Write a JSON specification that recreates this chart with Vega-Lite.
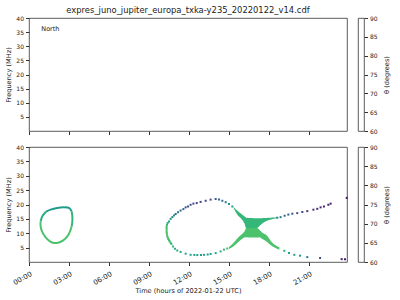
{
  "$schema": "https://vega.github.io/schema/vega-lite/v6.json",
  "padding": {"left": 5, "top": 5, "right": 0, "bottom": 0},
  "config": {
    "font": "DejaVu Sans",
    "view": {"stroke": "#333", "strokeWidth": 0.8},
    "axis": {"grid": false, "domain": false, "labelFontSize": 6, "titleFontSize": 6.6, "titleFontWeight": "normal", "tickSize": 3.5, "tickColor": "#333", "labelColor": "#222", "titleColor": "#222", "labelPadding": 2, "titlePadding": 4, "labelOverlap": false, "labelFlush": false}
  },
  "datasets": {
    "loop1": [
      {"seg": "a", "i": 1, "t": 1.25, "f": 17.4, "theta": 76.5},
      {"seg": "a", "i": 2, "t": 1.62, "f": 18.2, "theta": 76.5},
      {"seg": "a", "i": 3, "t": 2.12, "f": 18.8, "theta": 76.5},
      {"seg": "a", "i": 4, "t": 2.62, "f": 19.0, "theta": 76.5},
      {"seg": "a", "i": 5, "t": 3.0, "f": 18.8, "theta": 76.5},
      {"seg": "a", "i": 6, "t": 3.2, "f": 17.6, "theta": 76.5},
      {"seg": "b", "i": 1, "t": 0.87, "f": 14.1, "theta": 79},
      {"seg": "b", "i": 2, "t": 1.0, "f": 15.9, "theta": 79},
      {"seg": "b", "i": 3, "t": 1.25, "f": 17.4, "theta": 79},
      {"seg": "c", "i": 1, "t": 3.2, "f": 17.6, "theta": 79.5},
      {"seg": "c", "i": 2, "t": 3.25, "f": 15.9, "theta": 79.5},
      {"seg": "c", "i": 3, "t": 3.25, "f": 14.1, "theta": 79.5},
      {"seg": "c", "i": 4, "t": 3.2, "f": 12.4, "theta": 79.5},
      {"seg": "d", "i": 1, "t": 3.2, "f": 12.4, "theta": 81.5},
      {"seg": "d", "i": 2, "t": 3.07, "f": 10.6, "theta": 81.5},
      {"seg": "d", "i": 3, "t": 2.87, "f": 8.9, "theta": 81.5},
      {"seg": "d", "i": 4, "t": 2.57, "f": 7.5, "theta": 81.5},
      {"seg": "d", "i": 5, "t": 2.25, "f": 6.8, "theta": 81.5},
      {"seg": "d", "i": 6, "t": 1.87, "f": 6.6, "theta": 81.5},
      {"seg": "d", "i": 7, "t": 1.57, "f": 7.2, "theta": 81.5},
      {"seg": "d", "i": 8, "t": 1.25, "f": 8.6, "theta": 81.5},
      {"seg": "d", "i": 9, "t": 1.0, "f": 10.4, "theta": 81.5},
      {"seg": "d", "i": 10, "t": 0.87, "f": 12.4, "theta": 81.5},
      {"seg": "d", "i": 11, "t": 0.87, "f": 14.1, "theta": 81.5}
    ],
    "fill": [
      {"part": "upper", "t": 15.35, "f": 18.7, "f2": 19.1, "theta": 80},
      {"part": "upper", "t": 15.63, "f": 16.4, "f2": 17.8, "theta": 80},
      {"part": "upper", "t": 16.0, "f": 14.6, "f2": 16.4, "theta": 80},
      {"part": "upper", "t": 16.15, "f": 13.5, "f2": 15.9, "theta": 80},
      {"part": "upper", "t": 16.3, "f": 11.8, "f2": 15.4, "theta": 80},
      {"part": "upper", "t": 16.7, "f": 11.8, "f2": 15.3, "theta": 80},
      {"part": "upper", "t": 17.1, "f": 11.8, "f2": 15.2, "theta": 80},
      {"part": "upper", "t": 17.3, "f": 12.6, "f2": 15.2, "theta": 80},
      {"part": "upper", "t": 17.6, "f": 13.7, "f2": 15.3, "theta": 80},
      {"part": "upper", "t": 18.0, "f": 14.6, "f2": 15.4, "theta": 80},
      {"part": "upper", "t": 18.3, "f": 15.0, "f2": 15.5, "theta": 80},
      {"part": "upper", "t": 18.6, "f": 15.2, "f2": 15.6, "theta": 80},
      {"part": "lower", "t": 15.0, "f": 4.5, "f2": 5.2, "theta": 81.5},
      {"part": "lower", "t": 15.35, "f": 5.5, "f2": 6.7, "theta": 81.5},
      {"part": "lower", "t": 15.7, "f": 7.0, "f2": 8.6, "theta": 81.5},
      {"part": "lower", "t": 16.0, "f": 8.1, "f2": 9.8, "theta": 81.5},
      {"part": "lower", "t": 16.15, "f": 8.5, "f2": 10.5, "theta": 81.5},
      {"part": "lower", "t": 16.3, "f": 8.6, "f2": 11.8, "theta": 81.5},
      {"part": "lower", "t": 16.7, "f": 8.5, "f2": 11.8, "theta": 81.5},
      {"part": "lower", "t": 17.1, "f": 8.5, "f2": 11.8, "theta": 81.5},
      {"part": "lower", "t": 17.28, "f": 8.6, "f2": 11.2, "theta": 81.5},
      {"part": "lower", "t": 17.5, "f": 8.0, "f2": 10.2, "theta": 81.5},
      {"part": "lower", "t": 17.78, "f": 7.2, "f2": 9.5, "theta": 81.5},
      {"part": "lower", "t": 18.27, "f": 5.4, "f2": 6.6, "theta": 81.5},
      {"part": "lower", "t": 18.78, "f": 4.3, "f2": 5.1, "theta": 81.5}
    ],
    "dots": [
      {"t": 15.25, "f": 19.3, "theta": 77},
      {"t": 15.0, "f": 20.2, "theta": 75},
      {"t": 14.75, "f": 20.8, "theta": 73},
      {"t": 14.5, "f": 21.3, "theta": 71},
      {"t": 14.25, "f": 21.7, "theta": 69},
      {"t": 14.0, "f": 21.9, "theta": 67.5},
      {"t": 13.62, "f": 21.7, "theta": 66.5},
      {"t": 13.25, "f": 21.3, "theta": 66},
      {"t": 12.87, "f": 20.9, "theta": 66},
      {"t": 12.58, "f": 20.5, "theta": 66},
      {"t": 12.33, "f": 20.3, "theta": 66.5},
      {"t": 12.12, "f": 19.9, "theta": 67},
      {"t": 11.93, "f": 19.3, "theta": 67.5},
      {"t": 11.75, "f": 19.0, "theta": 68},
      {"t": 11.58, "f": 18.4, "theta": 69},
      {"t": 11.37, "f": 17.9, "theta": 70},
      {"t": 11.18, "f": 17.3, "theta": 71},
      {"t": 11.0, "f": 16.7, "theta": 72},
      {"t": 10.88, "f": 16.2, "theta": 73},
      {"t": 10.75, "f": 15.6, "theta": 74},
      {"t": 10.62, "f": 15.0, "theta": 76},
      {"t": 10.5, "f": 14.1, "theta": 78},
      {"t": 10.4, "f": 13.6, "theta": 79},
      {"t": 10.35, "f": 13.0, "theta": 80},
      {"t": 10.32, "f": 12.4, "theta": 81},
      {"t": 10.32, "f": 11.8, "theta": 81},
      {"t": 10.32, "f": 11.2, "theta": 81.5},
      {"t": 10.32, "f": 10.6, "theta": 81.5},
      {"t": 10.33, "f": 10.1, "theta": 81.5},
      {"t": 10.35, "f": 9.5, "theta": 81.5},
      {"t": 10.37, "f": 8.9, "theta": 81.5},
      {"t": 10.42, "f": 8.4, "theta": 81},
      {"t": 10.45, "f": 8.0, "theta": 81},
      {"t": 10.5, "f": 7.6, "theta": 81},
      {"t": 10.55, "f": 7.2, "theta": 80.5},
      {"t": 10.62, "f": 6.7, "theta": 80.5},
      {"t": 10.68, "f": 6.3, "theta": 80},
      {"t": 10.8, "f": 5.4, "theta": 79.5},
      {"t": 10.95, "f": 4.6, "theta": 79},
      {"t": 11.12, "f": 4.0, "theta": 78.5},
      {"t": 11.37, "f": 3.5, "theta": 78},
      {"t": 11.75, "f": 2.9, "theta": 77.5},
      {"t": 12.12, "f": 2.5, "theta": 77},
      {"t": 12.4, "f": 2.45, "theta": 77},
      {"t": 12.62, "f": 2.4, "theta": 77},
      {"t": 12.9, "f": 2.4, "theta": 77},
      {"t": 13.12, "f": 2.5, "theta": 77},
      {"t": 13.4, "f": 2.6, "theta": 77},
      {"t": 13.62, "f": 2.8, "theta": 77.5},
      {"t": 14.0, "f": 3.1, "theta": 78},
      {"t": 14.37, "f": 3.7, "theta": 79},
      {"t": 14.62, "f": 4.3, "theta": 80},
      {"t": 14.87, "f": 4.7, "theta": 80.5},
      {"t": 18.62, "f": 15.4, "theta": 74},
      {"t": 18.87, "f": 15.6, "theta": 72},
      {"t": 19.17, "f": 16.1, "theta": 70},
      {"t": 19.45, "f": 16.5, "theta": 69},
      {"t": 19.75, "f": 16.8, "theta": 68},
      {"t": 20.12, "f": 17.0, "theta": 67},
      {"t": 20.5, "f": 17.4, "theta": 66},
      {"t": 20.87, "f": 17.7, "theta": 65},
      {"t": 21.33, "f": 18.2, "theta": 64},
      {"t": 21.62, "f": 18.5, "theta": 63.5},
      {"t": 21.87, "f": 19.0, "theta": 63},
      {"t": 22.12, "f": 19.3, "theta": 63},
      {"t": 22.45, "f": 19.9, "theta": 62.5},
      {"t": 22.62, "f": 20.3, "theta": 62.5},
      {"t": 23.83, "f": 22.3, "theta": 61.5},
      {"t": 19.15, "f": 3.9, "theta": 78.5},
      {"t": 19.5, "f": 3.1, "theta": 78},
      {"t": 19.9, "f": 2.5, "theta": 77},
      {"t": 20.33, "f": 2.2, "theta": 75},
      {"t": 20.87, "f": 1.7, "theta": 72},
      {"t": 21.83, "f": 1.4, "theta": 67},
      {"t": 23.45, "f": 1.0, "theta": 62},
      {"t": 23.7, "f": 1.0, "theta": 62}
    ]
  },
  "vconcat": [
    {
      "hconcat": [
        {
          "width": 318,
          "height": 113,
          "title": {"text": "expres_juno_jupiter_europa_txka-y235_20220122_v14.cdf", "fontSize": 8.4, "fontWeight": "normal", "offset": 1, "color": "#222"},
          "data": {"values": [{"label": "North"}]},
          "mark": {"type": "text", "align": "left", "baseline": "middle", "fontSize": 6.5, "color": "#222"},
          "encoding": {
            "text": {"field": "label"},
            "x": {"datum": 0.92, "type": "quantitative", "scale": {"domain": [0, 23.85], "nice": false, "zero": false}, "axis": {"values": [0, 3, 6, 9, 12, 15, 18, 21], "labels": false, "title": null}},
            "y": {"datum": 36.0, "type": "quantitative", "scale": {"domain": [0, 40], "nice": false}, "axis": {"values": [5, 10, 15, 20, 25, 30, 35, 40], "title": "Frequency (MHz)"}}
          }
        },
        {
          "width": 6,
          "height": 113,
          "mark": {"type": "rect", "color": {"gradient": "linear", "x1": 0, "y1": 1, "x2": 0, "y2": 0, "stops": [
            {"offset": 0, "color": "#440154"}, {"offset": 0.1, "color": "#482475"}, {"offset": 0.2, "color": "#414487"}, {"offset": 0.3, "color": "#355f8d"}, {"offset": 0.4, "color": "#2a788e"}, {"offset": 0.5, "color": "#21918c"}, {"offset": 0.6, "color": "#22a884"}, {"offset": 0.7, "color": "#44bf70"}, {"offset": 0.8, "color": "#7ad151"}, {"offset": 0.9, "color": "#bddf26"}, {"offset": 1, "color": "#fde725"}]}},
          "encoding": {
            "y": {"datum": 60, "type": "quantitative", "scale": {"domain": [60, 90], "nice": false}, "axis": {"orient": "right", "values": [60, 65, 70, 75, 80, 85, 90], "title": "θ (degrees)", "titleAngle": 270, "titlePadding": 12}},
            "y2": {"datum": 90}
          }
        }
      ],
      "spacing": 11,
      "bounds": "flush"
    },
    {
      "hconcat": [
        {
          "width": 318,
          "height": 115,
          "encoding": {
            "x": {"field": "t", "type": "quantitative", "scale": {"domain": [0, 23.85], "nice": false, "zero": false}, "axis": {"values": [0, 3, 6, 9, 12, 15, 18, 21], "labelExpr": "(datum.value < 10 ? '0' : '') + datum.value + ':00'", "labelAngle": -30, "labelAlign": "right", "labelBaseline": "top", "labelFontSize": 7, "labelPadding": 4, "titlePadding": 2, "title": "Time (hours of 2022-01-22 UTC)"}},
            "y": {"field": "f", "type": "quantitative", "scale": {"domain": [0, 40], "nice": false}, "axis": {"values": [5, 10, 15, 20, 25, 30, 35, 40], "title": "Frequency (MHz)"}},
            "color": {"field": "theta", "type": "quantitative", "scale": {"scheme": "viridis", "domain": [60, 90]}, "legend": null}
          },
          "layer": [
            {
              "data": {"name": "fill"},
              "mark": {"type": "area", "interpolate": "monotone", "opacity": 1},
              "encoding": {
                "y2": {"field": "f2"},
                "detail": {"field": "part"}
              }
            },
            {
              "data": {"name": "loop1"},
              "mark": {"type": "line", "interpolate": "catmull-rom", "strokeWidth": 2},
              "encoding": {
                "order": {"field": "i"},
                "detail": {"field": "seg"}
              }
            },
            {
              "data": {"name": "dots"},
              "mark": {"type": "point", "shape": "square", "filled": true, "size": 4, "opacity": 1},
              "encoding": {}
            },
            {
              "data": {"values": [{"label": "South"}]},
              "mark": {"type": "text", "align": "left", "baseline": "middle", "fontSize": 6.5, "color": "#222"},
              "encoding": {
                "text": {"field": "label"},
                "x": {"datum": 0.92, "type": "quantitative"},
                "y": {"datum": 36.0, "type": "quantitative"},
                "color": {"value": "#222"}
              }
            }
          ]
        },
        {
          "width": 6,
          "height": 115,
          "mark": {"type": "rect", "color": {"gradient": "linear", "x1": 0, "y1": 1, "x2": 0, "y2": 0, "stops": [
            {"offset": 0, "color": "#440154"}, {"offset": 0.1, "color": "#482475"}, {"offset": 0.2, "color": "#414487"}, {"offset": 0.3, "color": "#355f8d"}, {"offset": 0.4, "color": "#2a788e"}, {"offset": 0.5, "color": "#21918c"}, {"offset": 0.6, "color": "#22a884"}, {"offset": 0.7, "color": "#44bf70"}, {"offset": 0.8, "color": "#7ad151"}, {"offset": 0.9, "color": "#bddf26"}, {"offset": 1, "color": "#fde725"}]}},
          "encoding": {
            "y": {"datum": 60, "type": "quantitative", "scale": {"domain": [60, 90], "nice": false}, "axis": {"orient": "right", "values": [60, 65, 70, 75, 80, 85, 90], "title": "θ (degrees)", "titleAngle": 270, "titlePadding": 12}},
            "y2": {"datum": 90}
          }
        }
      ],
      "spacing": 11,
      "bounds": "flush"
    }
  ],
  "spacing": 7
}
